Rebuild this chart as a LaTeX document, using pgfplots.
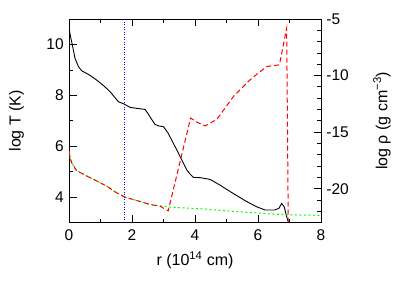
\documentclass[border=0pt]{standalone}
\usepackage{pgfplots}
\pgfplotsset{compat=1.18}
\usepackage{fontspec}
\setmainfont{Liberation Sans}
\begin{document}
\fontsize{15.5}{18}\selectfont
\begin{tikzpicture}
\pgfplotsset{
  every axis/.append style={
    scale only axis, width=252pt, height=203.7pt,
    xmin=0, xmax=8,
    tick align=inside,
    major tick length=7.5pt, minor tick length=4pt,
    every tick/.style={black, line width=0.8pt},
    axis line style={line width=0.9pt},
    /pgf/number format/assume math mode=true,
    tick label style={font=\fontsize{15.5}{18}\selectfont},
    label style={font=\fontsize{16}{19}\selectfont},
  }
}
\begin{axis}[
  name=ax,
  ymin=3, ymax=11,
  xtick={0,2,4,6,8}, minor x tick num=1,
  ytick={4,6,8,10}, minor y tick num=1,
  xtick pos=both, ytick pos=left,
  xlabel={r (10\textsuperscript{14} cm)},
  ylabel={log T (K)},
  ylabel shift=12pt,
  xticklabel style={yshift=-2pt},
]
\addplot[black, line width=0.9pt] coordinates {
(0,10.65) (0.05,10.3) (0.12,9.9) (0.19,9.46) (0.3,9.13) (0.4,8.97) (0.65,8.8) (0.88,8.6) (1.1,8.38) (1.3,8.15) (1.57,7.75) (1.75,7.66) (1.94,7.53) (2.15,7.49) (2.41,7.45) (2.5,7.3) (2.57,7.16) (2.73,6.86) (2.85,6.8) (3.0,6.77) (3.15,6.51) (3.42,5.86) (3.74,5.07) (3.85,4.9) (3.95,4.78) (4.16,4.77) (4.48,4.70) (4.79,4.48) (5.21,4.15) (5.64,3.83) (5.95,3.63) (6.22,3.5) (6.54,3.5) (6.67,3.57) (6.75,3.76) (6.83,3.63) (6.91,3.24) (6.97,3.0)
};
\addplot[blue, line width=0.8pt, dash pattern=on 1pt off 1.5pt] coordinates {(1.755,3) (1.755,11)};
\end{axis}
\begin{axis}[
  ymin=-23, ymax=-5,
  hide x axis,
  ytick={-5,-10,-15,-20}, minor ytick={-6,-7,-8,-9,-11,-12,-13,-14,-16,-17,-18,-19,-21,-22},
  ytick pos=right, yticklabel pos=right,
  ylabel={log ρ (g cm\textsuperscript{−3})},
  ylabel shift=14pt,
]
\addplot[green, line width=1pt, dash pattern=on 2pt off 2.5pt] coordinates {
(0,-16.7) (0.05,-17.4) (0.1,-17.8) (0.24,-18.4) (0.55,-18.85) (0.87,-19.3) (1.2,-19.77) (1.51,-20.36) (1.78,-20.74) (2.15,-21.04) (2.57,-21.39) (2.89,-21.5) (3.15,-21.6) (3.52,-21.68) (4.16,-21.76) (5.21,-22.0) (6.28,-22.2) (6.91,-22.3) (8,-22.35)
};
\addplot[red, line width=1pt, dash pattern=on 5pt off 3pt] coordinates {
(0,-16.7) (0.05,-17.4) (0.1,-17.8) (0.24,-18.4) (0.55,-18.85) (0.87,-19.3) (1.2,-19.77) (1.51,-20.36) (1.78,-20.74) (2.15,-21.04) (2.57,-21.39) (2.89,-21.54) (3.15,-21.95) (3.86,-13.75) (4.05,-14.1) (4.32,-14.45) (4.69,-13.88) (5.22,-11.85) (5.75,-10.37) (6.0,-9.8) (6.28,-9.2) (6.68,-9.05) (6.91,-5.82) (6.96,-23)
};
\end{axis}
\pgfresetboundingbox
\useasboundingbox ([xshift=-69pt,yshift=-68.3pt]ax.south west) rectangle ([xshift=94pt,yshift=19pt]ax.north east);
\end{tikzpicture}
\end{document}
